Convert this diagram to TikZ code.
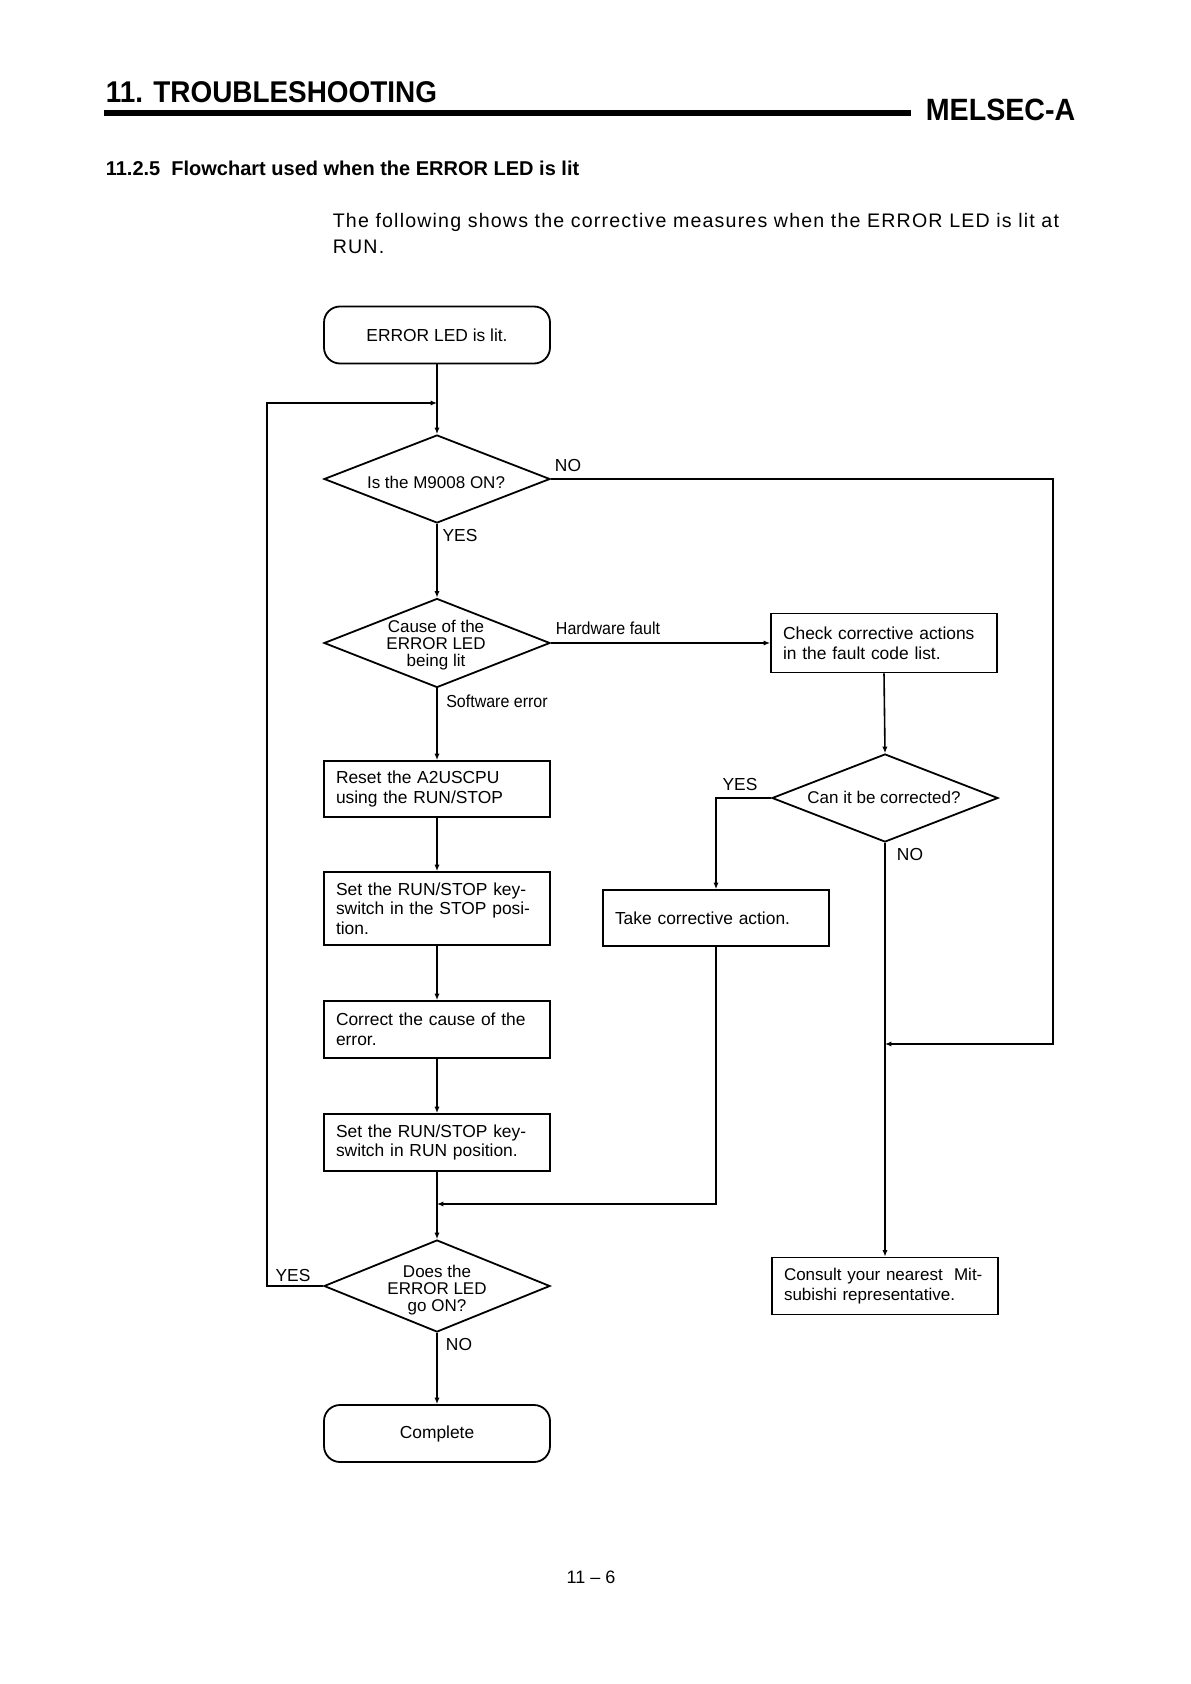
\documentclass[tikz,border=0pt]{standalone}
\usepackage{graphicx}
\usepackage{fontspec}
\setmainfont{Liberation Sans}
\newfontfamily\bodyfont[LetterSpace=6]{Liberation Sans}
\usetikzlibrary{shapes.geometric,arrows.meta}
\begin{document}
\begin{tikzpicture}[x=0.5pt,y=-0.5pt,
  line width=0.8pt,
  >={Latex[length=3.2pt,width=2.6pt]},
  fc/.style={font=\fontsize{8.7}{9.8}\selectfont},
  fd/.style={font=\fontsize{8.5}{8.6}\selectfont},
  procbox/.style={draw, rectangle, minimum height=28pt, inner xsep=6pt, inner ysep=2pt,
    text width=101pt, align=left, fc, line width=0.9pt},
  term/.style={draw, rectangle, rounded corners=8pt, minimum width=113pt, minimum height=28.5pt,
    fc, line width=0.9pt},
  dec/.style={draw, diamond, inner sep=0pt, minimum width=113pt, minimum height=44pt, line width=0.9pt},
  dtext/.style={fd, align=center, inner sep=0pt},
  lbl/.style={fc, inner sep=0pt},
]
\useasboundingbox (0,0) rectangle (1190,1684);
\fill[white] (0,0) rectangle (1190,1684);

% header
\node[anchor=base west, inner sep=0pt] (title) at (105,103)
  {\fontsize{15}{18}\selectfont\bfseries\scalebox{0.93}[1]{11. TROUBLESHOOTING}};
\coordinate (barL) at (104,113);
\coordinate (barR) at (911,113);
\draw[line width=3.3pt] (barL) -- (barR);
\node[anchor=base west, inner sep=0pt] (melsec) at (925,121)
  {\fontsize{15.4}{18}\selectfont\bfseries\scalebox{0.93}[1]{MELSEC-A}};
\node[anchor=base west, inner sep=0pt] (sub) at (105,176)
  {\fontsize{10}{12}\selectfont\bfseries 11.2.5\ \ Flowchart used when the ERROR LED is lit};
\node[anchor=base west, inner sep=0pt] (body1) at (332,228)
  {\bodyfont\fontsize{9.8}{13}\selectfont The following shows the corrective measures when the ERROR LED is lit at};
\node[anchor=base west, inner sep=0pt] (body2) at (332,254)
  {\bodyfont\fontsize{9.8}{13}\selectfont RUN.};

% main column
\node[term] (start) at (437,335) {ERROR LED is lit.};
\node[dec] (d1) at (437,479) {};
\node[dtext] (d1t) at (436,482) {Is the M9008 ON?};
\node[dec, minimum height=44.5pt] (d2) at (437,643) {};
\node[dtext] (d2t) at (436,645) {Cause of the\\ERROR LED\\being lit};
\node[procbox] (reset) at (437,789) {Reset the A2USCPU\\using the RUN/STOP};
\node[procbox, minimum height=36.5pt] (stop) at (437,908.5) {Set the RUN/STOP key-\\switch in the STOP posi-\\tion.};
\node[procbox, minimum height=28.5pt] (corr) at (437,1029.5) {Correct the cause of the\\error.};
\node[procbox, minimum height=28.5pt] (runb) at (437,1142.5) {Set the RUN/STOP key-\\switch in RUN position.};
\node[dec, minimum height=46pt] (d3) at (437,1286) {};
\node[dtext] (d3t) at (437,1290) {Does the\\ERROR LED\\go ON?};
\node[term] (complete) at (437,1433.5) {Complete};

% right column
\node[procbox, minimum height=29.5pt] (check) at (884,643) {Check corrective actions\\in the fault code list.};
\node[dec] (d4) at (885,798) {};
\node[dtext] (d4t) at (884,797) {Can it be corrected?};
\node[procbox] (take) at (716,918) {Take corrective action.};
\node[procbox, minimum height=28.5pt, font=\fontsize{8.5}{9.8}\selectfont] (consult) at (885,1286)
  {Consult your nearest\ \ Mit-\\subishi representative.};

% junction coordinates
\coordinate (m1) at (437,403);
\coordinate (yesL) at (267,403);
\coordinate (noR) at (1053,1044);
\coordinate (m2) at (885,1044);
\coordinate (m3) at (437,1204);

% connectors
\draw[->] (start.south) -- (d1.north);
\draw[->] (d3.west) -| (yesL) -- (m1);
\draw[->] (d1.east) -| (noR) -- (m2);
\draw[->] (d1.south) -- (d2.north);
\draw[->] (d2.east) -- (check.west);
\draw[->] (d2.south) -- (reset.north);
\draw[->] (reset.south) -- (stop.north);
\draw[->] (stop.south) -- (corr.north);
\draw[->] (corr.south) -- (runb.north);
\draw[->] (runb.south) -- (d3.north);
\draw[->] (take.south) |- (m3);
\draw[->] (d3.south) -- (complete.north);
\draw[->] (check.south) -- (d4.north);
\draw[->] (d4.west) -| (take.north);
\draw[->] (d4.south) -- (consult.north);

% labels
\node[lbl] (no1) at (568,466) {NO};
\node[lbl] (yes1) at (460,536) {YES};
\node[lbl] (hw) at (608,628) {\scalebox{0.92}[1]{Hardware fault}};
\node[lbl] (sw) at (497,701) {\scalebox{0.92}[1]{Software error}};
\node[lbl] (yes4) at (740,785) {YES};
\node[lbl] (no4) at (910,855) {NO};
\node[lbl] (yes3) at (293,1275) {YES};
\node[lbl] (no3) at (459,1344) {NO};

% page number
\node[anchor=base, inner sep=0pt] (pg) at (591,1583) {\fontsize{9}{11}\selectfont 11 -- 6};
\end{tikzpicture}
\end{document}
